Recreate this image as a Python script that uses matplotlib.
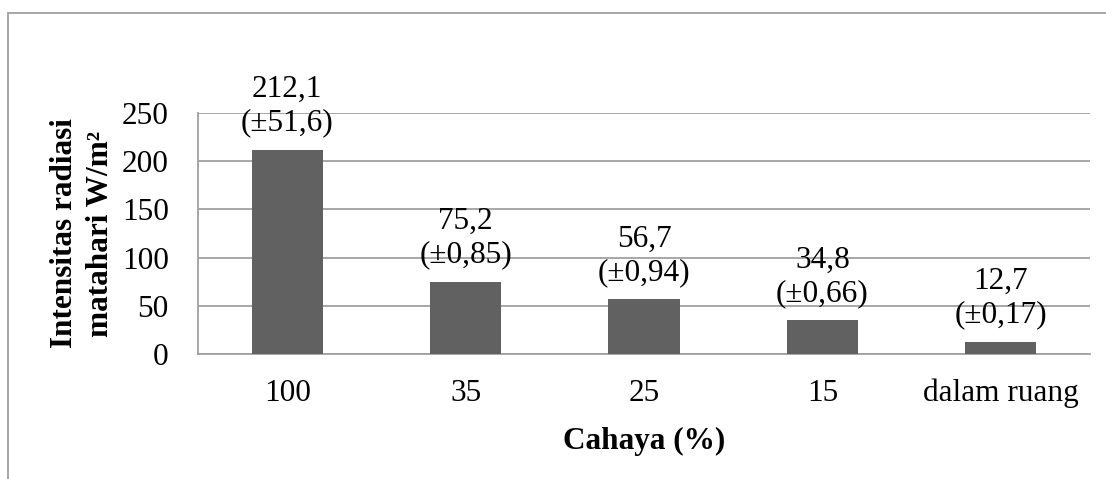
import matplotlib.pyplot as plt
from matplotlib.patches import Rectangle

plt.rcParams['font.family'] = ['Liberation Serif', 'DejaVu Serif']

kategori = ['100', '35', '25', '15', 'dalam ruang']
intensitas = [212.1, 75.2, 56.7, 34.8, 12.7]
sd = ['51,6', '0,85', '0,94', '0,66', '0,17']

fig = plt.figure(figsize=(11.06, 4.79), dpi=100)
ax = fig.add_axes([198 / 1106, 1 - 354 / 479, (1090 - 198) / 1106, (354 - 113) / 479])

# outer chart frame (cut off at right and bottom like the source)
fig.patches.append(Rectangle((8 / 1106, -0.1), 1.2, 1 - 13 / 479 + 0.1,
                             transform=fig.transFigure, fill=False,
                             edgecolor='#a0a0a0', linewidth=1.3))

x = range(len(kategori))
ax.bar(x, intensitas, width=0.4, color='#616161', zorder=3)

for i, (v, s) in enumerate(zip(intensitas, sd)):
    lbl = f'{v:.1f}'.replace('.', ',') + f'\n(±{s})'
    ax.annotate(lbl, (i, v), xytext=(0, 9), textcoords='offset points',
                ha='center', va='bottom', fontsize=22.5, linespacing=1.2)

ax.set_xlim(-0.5, len(kategori) - 0.5)
ax.set_ylim(0, 250)
ax.set_yticks(range(0, 251, 50))
ax.set_xticks(list(x))
ax.set_xticklabels(kategori)
ax.yaxis.grid(True, color='#a0a0a0', linewidth=1.3, zorder=0)
ax.set_axisbelow(True)
for sp in ['top', 'right']:
    ax.spines[sp].set_visible(False)
ax.spines['left'].set_color('#a0a0a0')
ax.spines['bottom'].set_color('#a0a0a0')
ax.spines['left'].set_linewidth(1.3)
ax.spines['bottom'].set_linewidth(1.3)
ax.tick_params(axis='both', length=0, labelsize=22.5)
ax.tick_params(axis='y', pad=21)
ax.tick_params(axis='x', pad=18)

ax.set_xlabel('Cahaya (%)', fontsize=22.5, fontweight='bold', labelpad=13)
ax.set_ylabel('Intensitas radiasi\nmatahari W/m²', fontsize=22.5,
              fontweight='bold', linespacing=1.3, labelpad=5)

fig.savefig('out.png', dpi=100, facecolor='white')
